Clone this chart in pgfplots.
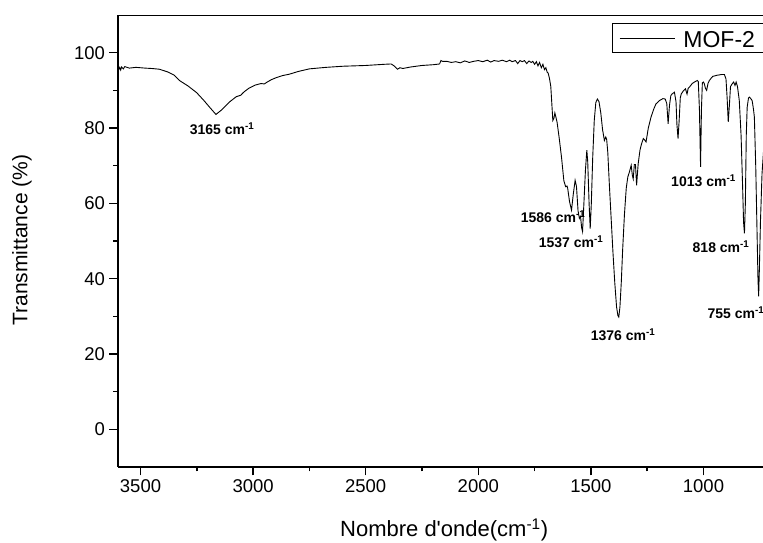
\documentclass[border=0pt]{standalone}
\usepackage{fontspec}
\setmainfont{Liberation Sans}
\usepackage{pgfplots}
\pgfplotsset{compat=1.18}

% FT-IR spectrum of MOF-2 (wavenumber in cm^-1, transmittance in %)
\tikzset{peak/.style={font=\fontsize{14}{16}\selectfont\bfseries, inner sep=0pt}}
\begin{document}
\begin{tikzpicture}
\useasboundingbox (-118pt,-76pt) rectangle (645pt,467pt);
\begin{axis}[
  at={(0,0)}, anchor=south west,
  scale only axis, width=664.3pt, height=452pt,
  x dir=reverse,
  xmin=650, xmax=3600, ymin=-10, ymax=110,
  xtick={1000,1500,...,3500}, ytick={0,20,...,100},
  minor x tick num=1, minor y tick num=1,
  tick align=outside, xtick pos=bottom, ytick pos=left,
  major tick length=8.5pt, minor tick length=4.5pt,
  every tick/.style={black, line width=1.5pt},
  axis line style={line width=0.8pt},
  /pgf/number format/assume math mode=true,
  /pgf/number format/set thousands separator={},
  ticklabel style={font=\fontsize{18.5}{22}\selectfont},
  xticklabel style={yshift=-1pt},
  yticklabel style={xshift=-1pt},
  xlabel={Nombre d\textquotesingle onde(cm\textsuperscript{-1})},
  ylabel={Transmittance (\%)},
  xlabel style={font=\fontsize{22}{26}\selectfont, at={(axis description cs:0.5,0)}, anchor=center, xshift=-6pt, yshift=-63pt},
  ylabel style={font=\fontsize{21}{25}\selectfont, at={(axis description cs:-0.1445,0.502)}, anchor=center},
  clip=false,
]
% thicker left and bottom spines
\draw[line width=1.8pt] (rel axis cs:0,0) -- (rel axis cs:1,0);
\draw[line width=1.8pt] (axis description cs:0,0) -- (axis description cs:0,1);

\addplot[black, line width=0.9pt] coordinates {
(3600,96.2) (3596,95.6) (3592,96.1) (3588,95.4) (3584,96.2) (3576,95.7) (3570,96.3)
(3550,95.9) (3520,96.1) (3480,95.9) (3450,95.8) (3416,95.6) (3380,94.9)
(3350,94.0) (3327,92.6) (3290,91.2) (3251,89.4) (3220,87.4) (3190,85.3)
(3165,83.6) (3140,84.8) (3105,86.9) (3075,88.3) (3055,88.7) (3047,89.2)
(3040,89.6) (3020,90.5) (2990,91.4) (2965,91.8) (2950,91.7) (2940,92.1)
(2920,92.8) (2900,93.3) (2870,93.9) (2838,94.3) (2800,95.0) (2750,95.7)
(2676,96.1) (2600,96.4) (2500,96.6) (2420,96.9) (2387,97.0) (2372,96.4)
(2359,95.6) (2348,96.0) (2335,95.8) (2300,96.2) (2250,96.6) (2200,96.8)
(2172,97.0) (2166,97.9) (2159,97.7) (2140,97.7) (2120,97.4) (2100,97.6)
(2080,97.3) (2060,97.8) (2040,97.4) (2020,97.7) (2000,97.9) (1980,97.6)
(1960,98.0) (1945,97.5) (1930,97.9) (1910,97.7) (1893,98.0) (1875,97.6)
(1860,98.0) (1850,97.6) (1835,97.9) (1825,97.1) (1815,97.9) (1805,97.6)
(1795,97.9) (1785,97.1) (1775,97.8) (1765,97.4) (1758,97.7) (1750,96.9)
(1742,97.6) (1735,96.5) (1728,97.4) (1720,96.0) (1713,96.9) (1706,95.5)
(1700,96.0) (1694,94.8) (1690,94.6) (1684,93.2) (1678,91.0) (1672,85.0)
(1669,82.0) (1664,82.6) (1660,84.0) (1657,83.3) (1650,81.5) (1640,77.0)
(1630,72.0) (1620,66.0) (1612,64.4) (1606,64.6) (1603,64.0) (1595,60.5)
(1586,58.2) (1578,62.5) (1570,66.1) (1564,64.5) (1557,58.0) (1551,56.0)
(1546,56.5) (1541,53.5) (1537,52.5) (1531,60.0) (1524,69.0) (1518,74.1)
(1514,71.0) (1508,60.0) (1503,53.3) (1498,60.0) (1492,72.0) (1485,82.0)
(1478,86.8) (1471,87.7) (1464,87.0) (1456,84.0) (1448,79.5) (1440,76.7)
(1434,77.6) (1430,77.0) (1425,73.6) (1418,65.0) (1410,56.0) (1402,47.0)
(1394,39.0) (1386,32.5) (1380,30.2) (1376,29.8) (1371,32.5) (1365,39.0)
(1359,47.6) (1351,57.0) (1343,64.0) (1336,67.0) (1328,68.5) (1321,70.1)
(1316,67.5) (1312,66.5) (1307,70.3) (1302,70.3) (1297,64.8) (1290,70.5)
(1282,74.1) (1275,75.8) (1267,77.2) (1261,76.8) (1255,76.3) (1245,80.0)
(1233,82.9) (1221,85.0) (1211,86.4) (1195,87.3) (1180,87.8) (1170,87.7)
(1163,86.5) (1157,81.1) (1151,86.0) (1145,88.6) (1140,89.0) (1129,89.5)
(1122,87.0) (1118,81.0) (1113,77.2) (1108,82.0) (1103,88.0) (1099,89.0)
(1090,89.8) (1080,90.4) (1075,89.4) (1073,89.0) (1068,90.5) (1063,90.8)
(1050,91.8) (1040,92.2) (1028,92.6) (1023,92.3) (1018,85.0) (1013,69.7)
(1009,85.0) (1005,92.0) (1000,92.2) (996,91.7) (991,90.5) (986,90.0)
(980,91.8) (974,92.6) (965,93.3) (959,93.7) (940,94.0) (920,94.2)
(907,94.2) (900,93.0) (895,88.0) (890,81.6) (885,86.0) (880,91.0)
(873,91.7) (866,92.2) (860,91.3) (855,92.2) (849,91.0) (841,87.3)
(833,78.0) (826,64.0) (822,55.0) (818,52.0) (814,60.0) (810,78.0)
(806,85.5) (800,88.0) (796,88.2) (790,87.8) (784,87.3) (778,85.0)
(774,82.9) (768,70.0) (762,52.0) (758,40.0) (755,35.3) (752,42.0)
(747,55.0) (740,67.9) (732,75.0)
};

% legend box (runs on past the right edge of the page)
\node[draw=black, line width=0.8pt, anchor=north west, inner xsep=7.6pt, inner ysep=4.5pt,
      text height=20pt, text depth=0pt, font=\fontsize{23}{26}\selectfont]
  at (axis description cs:0.7432,0.983)
  {\rule[8.9pt]{55.7pt}{0.9pt}\kern8pt MOF-2\kern25pt};

\node[peak] at (axis cs:3138,79.8) {3165 cm\textsuperscript{-1}};
\node[peak] at (axis cs:1668,56.4) {1586 cm\textsuperscript{-1}};
\node[peak] at (axis cs:1588,49.8) {1537 cm\textsuperscript{-1}};
\node[peak] at (axis cs:1357,25.1) {1376 cm\textsuperscript{-1}};
\node[peak] at (axis cs:1000,66.1) {1013 cm\textsuperscript{-1}};
\node[peak] at (axis cs:922,48.5) {818 cm\textsuperscript{-1}};
\node[peak] at (axis cs:856,31.0) {755 cm\textsuperscript{-1}};
\end{axis}
\end{tikzpicture}
\end{document}
